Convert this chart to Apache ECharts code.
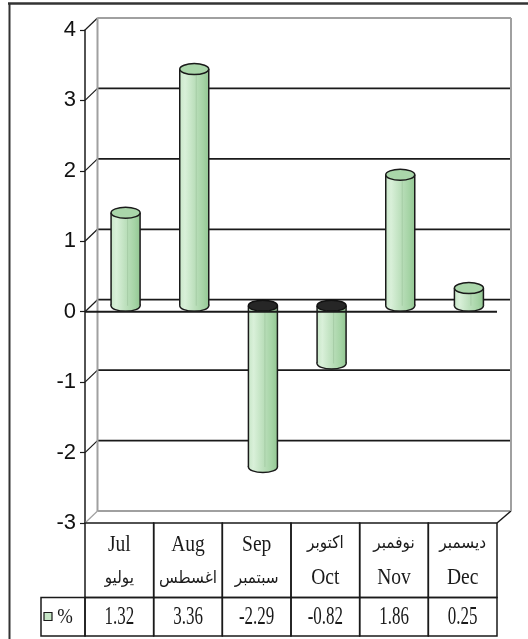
<!DOCTYPE html>
<html><head><meta charset="utf-8">
<script src="https://cdn.jsdelivr.net/npm/echarts@6/dist/echarts.min.js"></script>
<style>html,body{margin:0;padding:0;background:#fff}#c{width:528px;height:639px}</style>
</head><body><div id="c"></div>
<script>
const monthsEn = ['Jul','Aug','Sep','Oct','Nov','Dec'];
const monthsAr = ['يوليو','اغسطس','سبتمبر','اكتوبر','نوفمبر','ديسمبر'];
const arabicFirst = [false,false,false,true,true,true];
const values = [1.32, 3.36, -2.29, -0.82, 1.86, 0.25];
const valueLabels = ['1.32','3.36','-2.29','-0.82','1.86','0.25'];
const yTicks = [-3,-2,-1,0,1,2,3,4];
const seriesName = '%';

const DX = 12.5, DY = -12;
const RX = 14.5, RY = 5.5;
const DARK = '#1a1a1a';
const GRAY = '#a0a0a0';
const SERIF = '"Liberation Serif","Times New Roman",serif';
const ARABIC = '"DejaVu Sans",sans-serif';

function bodyGrad() {
  return new echarts.graphic.LinearGradient(0,0,1,0,[
    {offset:0,color:'#c9e7c9'},{offset:0.18,color:'#d9f0d9'},
    {offset:0.5,color:'#bde0bd'},{offset:0.8,color:'#a6d4a6'},{offset:1,color:'#93c793'}]);
}
function line(x1,y1,x2,y2,color,w){
  return {type:'line',shape:{x1,y1,x2,y2},style:{stroke:color,lineWidth:w||1.5}};
}

const chart = echarts.init(document.getElementById('c'), null, {renderer:'canvas'});
chart.setOption({
  animation:false,
  backgroundColor:'#fff',
  grid:{left:85,right:31,top:30,bottom:116},
  xAxis:{type:'category',data:monthsEn,boundaryGap:true,
    axisLine:{show:false},axisTick:{show:false},axisLabel:{show:false},splitLine:{show:false}},
  yAxis:{type:'value',min:-3,max:4,interval:1,
    axisLine:{show:true,lineStyle:{color:DARK,width:1.5}},
    axisTick:{show:true,length:5,lineStyle:{color:DARK,width:1.2}},
    axisLabel:{fontSize:22,color:'#111',fontFamily:'"Liberation Sans",Arial,sans-serif',margin:9},
    splitLine:{show:false}},
  graphic:[
    {type:'line',shape:{x1:8,y1:3.5,x2:528,y2:3.5},style:{stroke:'#333',lineWidth:2.5},z:100},
    {type:'line',shape:{x1:9.5,y1:3,x2:9.5,y2:639},style:{stroke:'#333',lineWidth:2},z:100}
  ],
  series:[
    { // 3D walls and back gridlines
      type:'custom', name:'wall', silent:true, z:1,
      data: yTicks.map(v=>[0,v]),
      renderItem(params, api){
        const cs = params.coordSys;
        const v = api.value(1);
        const y = api.coord([0,v])[1];
        const xl = cs.x, xr = cs.x + cs.width;
        const ch = [];
        const isEdge = (v === 4 || v === -3);
        ch.push(line(xl+DX, y+DY, xr+DX+1.5, y+DY, isEdge ? GRAY : DARK, isEdge ? 2 : 1.8));
        ch.push(line(xl, y, xl+DX, y+DY, v === -3 ? GRAY : DARK, 1.2));
        if (v === 4) {
          const yb = api.coord([0,-3])[1];
          ch.push(line(xl+DX, y+DY, xl+DX, yb+DY, GRAY, 2));
          ch.push(line(xr+DX+1.5, y+DY, xr+DX+1.5, yb+DY, GRAY, 2));
        }
        if (v === -3) {
          ch.push(line(xr, y, xr+DX+1.5, y+DY, DARK, 1.5));
        }
        return {type:'group',children:ch};
      }
    },
    { // cylinders
      type:'custom', name:seriesName, z:3,
      data: values.map((v,i)=>[i,v]),
      renderItem(params, api){
        const i = api.value(0), v = api.value(1);
        const cx = api.coord([i,0])[0] + DX/2;
        const yTop = api.coord([i,Math.max(v,0)])[1] + DY/2;
        const yBot = api.coord([i,Math.min(v,0)])[1] + DY/2;
        const neg = v < 0;
        return {type:'group',children:[
          {type:'ellipse',shape:{cx,cy:yBot,rx:RX,ry:RY},style:{fill:bodyGrad(),stroke:DARK,lineWidth:1.5}},
          {type:'rect',shape:{x:cx-RX,y:yTop,width:2*RX,height:yBot-yTop},style:{fill:bodyGrad()}},
          {type:'line',shape:{x1:cx+2,y1:yTop,x2:cx+2,y2:yBot},style:{stroke:'rgba(150,190,150,0.5)',lineWidth:1}},
          line(cx-RX,yTop,cx-RX,yBot,DARK,1.5),
          line(cx+RX,yTop,cx+RX,yBot,DARK,1.5),
          {type:'ellipse',shape:{cx,cy:yTop,rx:RX,ry:RY},
            style: neg ? {fill:'#262626',stroke:'#111',lineWidth:1.5}
                       : {fill:'#aad6aa',stroke:DARK,lineWidth:1.5}}
        ]};
      }
    },
    { // front zero line
      type:'custom', name:'zero', silent:true, z:5,
      data:[[0,0]],
      renderItem(params, api){
        const cs = params.coordSys;
        const y = api.coord([0,0])[1];
        return line(cs.x, y, cs.x+cs.width, y, DARK, 2);
      }
    },
    { // data table
      type:'custom', name:'table', silent:true, z:6,
      data: monthsEn.map((m,i)=>[i,-3]),
      renderItem(params, api){
        const i = api.value(0);
        const band = api.size([1,0])[0];
        const c = api.coord([i,-3]);
        const x0 = c[0] - band/2, yT = c[1];
        const H1 = 74.5, H2 = 38.5;
        const ch = [
          {type:'rect',shape:{x:x0,y:yT,width:band,height:H1},style:{fill:'none',stroke:DARK,lineWidth:1.5}},
          {type:'rect',shape:{x:x0,y:yT+H1,width:band,height:H2},style:{fill:'none',stroke:DARK,lineWidth:1.5}}
        ];
        const en = {type:'text',x:c[0],y:0,scaleX:0.85,
          style:{text:monthsEn[i],fontFamily:SERIF,fontSize:23,fill:'#1a1a1a',align:'center',verticalAlign:'middle'}};
        const ar = {type:'text',x:c[0],y:0,scaleX:0.9,
          style:{text:monthsAr[i],fontFamily:ARABIC,fontSize:17,fill:'#1a1a1a',align:'center',verticalAlign:'middle'}};
        if (arabicFirst[i]) { ar.y = yT+21; en.y = yT+55; }
        else { en.y = yT+22; ar.y = yT+56; }
        ch.push(en, ar);
        ch.push({type:'text',x:c[0],y:yT+H1+20,scaleX:0.68,
          style:{text:valueLabels[i],fontFamily:SERIF,fontSize:25,fill:'#1a1a1a',align:'center',verticalAlign:'middle'}});
        if (i === 0) {
          const lx = 41;
          ch.push({type:'rect',shape:{x:lx,y:yT+H1,width:x0-lx,height:H2},style:{fill:'none',stroke:DARK,lineWidth:1.5}});
          ch.push({type:'rect',shape:{x:lx+3,y:yT+H1+15,width:8,height:8},style:{fill:'#c6e6c6',stroke:DARK,lineWidth:1.2}});
          ch.push({type:'text',x:lx+24,y:yT+H1+20,scaleX:0.85,
            style:{text:seriesName,fontFamily:SERIF,fontSize:22,fill:'#1a1a1a',align:'center',verticalAlign:'middle'}});
        }
        return {type:'group',children:ch};
      }
    }
  ]
});
</script>
</body></html>
